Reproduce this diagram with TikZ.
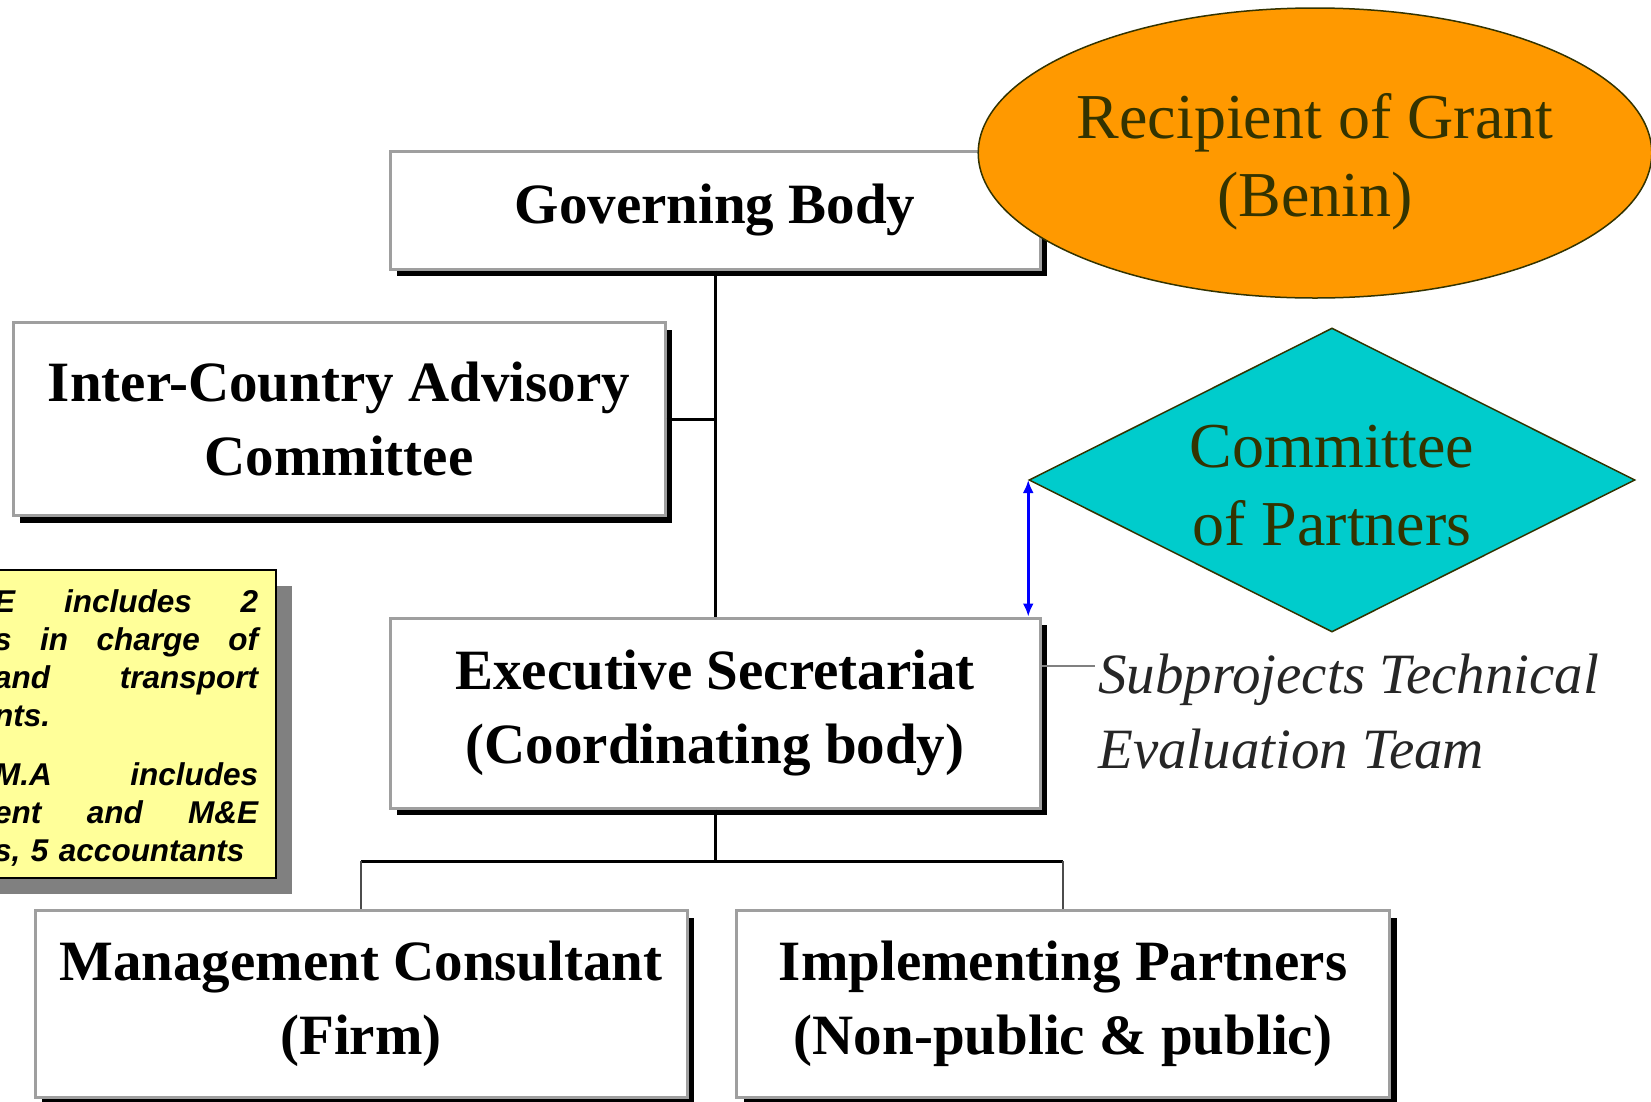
\documentclass[tikz,border=0pt]{standalone}
\usepackage{fontspec}
\setmainfont{Liberation Serif}
\newfontfamily\notefont{Liberation Sans}
\usetikzlibrary{shapes.geometric,shadows,arrows.meta}
\definecolor{grantorange}{HTML}{FF9900}
\definecolor{partnerteal}{HTML}{00CCCC}
\definecolor{olivetext}{HTML}{333300}
\definecolor{noteyellow}{HTML}{FFFF99}
\newcommand{\unitfont}{\bfseries\fontsize{57}{74}\selectfont}
\newcommand{\jl}[1]{\leavevmode\hbox to 264pt{#1}\\}

\begin{document}
\begin{tikzpicture}[x=1pt,y=1pt,
 unit/.style={draw=gray!75,line width=3pt,fill=white,align=center,font=\unitfont,minimum width=650pt,
  drop shadow={shadow xshift=7pt,shadow yshift=-7pt,fill=black,opacity=1}},
 link/.style={line width=3pt},
 drop/.style={line width=1.5pt,black!70}]
\useasboundingbox (0,0) rectangle (1651,-1101);
% note box on the left
\node[draw=black,line width=1.5pt,fill=noteyellow,minimum width=300pt,minimum height=308pt,
 drop shadow={shadow xshift=16pt,shadow yshift=-16pt,fill=gray,opacity=1}] (notebox) at (126,-724) {};
\node[anchor=north west,inner sep=0pt,text width=264pt,align=left,
 font=\notefont\bfseries\itshape\fontsize{31.5}{38}\selectfont] (note) at (-6,-589)
 {\jl{E\hfill includes\hfill 2}\jl{s\hfill in\hfill charge\hfill of}\jl{and\hfill transport}nts.\\[21pt]%
  \jl{M.A\hfill includes}\jl{ent\hfill and\hfill M\&E}s, 5 accountants};
% units
\node[unit,minimum height=118pt] (gb) at (715,-210) {Governing Body};
\node[unit,minimum width=652pt,minimum height=193pt] (ic) at (339,-419) {Inter-Country Advisory\\Committee};
\node[unit,minimum height=190pt] (es) at (715,-713) {Executive Secretariat\\(Coordinating body)};
\node[unit,minimum width=652pt,minimum height=187pt] (mc) at (361,-1004) {Management Consultant\\(Firm)};
\node[unit,minimum width=653pt,minimum height=187pt] (ip) at (1063,-1004) {Implementing Partners\\(Non-public \& public)};
\node[ellipse,draw=olivetext,line width=1.5pt,fill=grantorange,minimum width=672pt,minimum height=290pt,
 inner sep=0pt,text=olivetext,align=center,font=\fontsize{64}{78}\selectfont] (grant) at (1315,-153)
 {\rule{0pt}{63pt}Recipient of Grant\\(Benin)};
\node[diamond,aspect=2,draw=olivetext,line width=1.5pt,fill=partnerteal,minimum width=606pt,minimum height=304pt,
 inner sep=0pt,text=olivetext,align=center,font=\fontsize{64}{78}\selectfont] (partners) at (1332,-480)
 {\rule{0pt}{54pt}Committee\\of Partners};
\node[anchor=north west,inner sep=0pt,align=left,text=black!85,font=\itshape\fontsize{57}{75}\selectfont] (stet) at (1098,-654)
 {Subprojects Technical\\Evaluation Team};
% links
\coordinate (bus) at (715,-861);
\coordinate (stetpin) at (1095,-666);
\draw[link] (gb.south) -- (es.north);
\draw[link] (ic.east) -- (ic.east -| gb.south);
\draw[link] (es.south) -- (bus);
\draw[link] (mc.north |- bus) -- (ip.north |- bus);
\foreach \n in {mc,ip} \draw[drop] (\n.north) -- (\n.north |- bus);
\draw[gray,line width=2.5pt] (es.east |- stetpin) -- (stetpin);
\draw[blue,line width=2.5pt,{Latex[length=13pt,width=11pt]}-{Latex[length=13pt,width=11pt]}] (partners.west) -- (partners.west |- es.north);
\end{tikzpicture}
\end{document}
